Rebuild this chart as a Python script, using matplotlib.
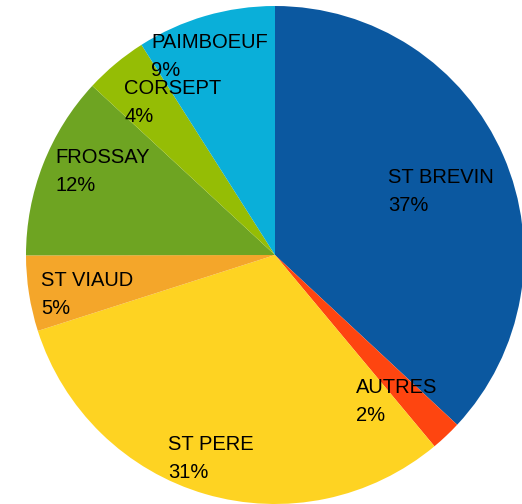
import matplotlib
matplotlib.use("Agg")
import matplotlib.pyplot as plt

# parts of the pie, clockwise from 12 o'clock
names = ["ST BREVIN", "AUTRES", "ST PERE", "ST VIAUD", "FROSSAY", "CORSEPT", "PAIMBOEUF"]
values = [36.9, 2.0, 31.1, 4.9, 11.9, 4.1, 9.0]
colors = ["#0b58a0", "#fe4510", "#fed322", "#f4a62a", "#6ea422", "#95bd05", "#0aafd9"]

# label anchors in pixels (left x, baseline of name line)
label_px = [(388, 183), (356, 393), (168, 450), (41, 286), (55, 163), (124, 94), (151, 48)]

W, H = 522, 504
cx, cy, R = 275, 255, 249


def to_data(px, py):
    return (px - cx) / R, (cy - py) / R


fig = plt.figure(figsize=(W / 100, H / 100), dpi=100)
ax = fig.add_axes([0, 0, 1, 1])
ax.pie(values, colors=colors, startangle=90, counterclock=False,
       radius=1, wedgeprops=dict(linewidth=0))
ax.set_xlim(-cx / R, (W - cx) / R)
ax.set_ylim((cy - H) / R, cy / R)
ax.set_aspect("equal")
ax.axis("off")

font = dict(family="Liberation Sans", fontsize=14.5, color="black")
total = sum(values)
for name, v, (px, py) in zip(names, values, label_px):
    x, y = to_data(px, py)
    ax.text(x, y, name, ha="left", va="baseline", **font)
    x2, y2 = to_data(px, py + 28)
    ax.text(x2, y2, "%d%%" % round(100 * v / total), ha="left", va="baseline", **font)

fig.savefig("out.png", dpi=100)
